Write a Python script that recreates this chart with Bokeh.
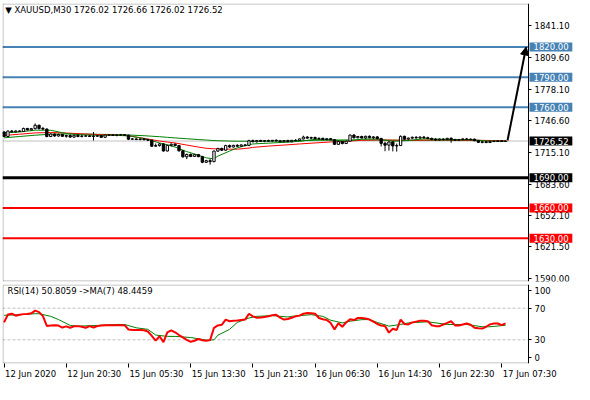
from bokeh.plotting import figure
from bokeh.layouts import column
from bokeh.models import (Range1d, FixedTicker, LinearAxis, Label, Arrow, BoxAnnotation,
                          NormalHead, NumeralTickFormatter, ColumnDataSource)
from bokeh.embed import file_html
from bokeh.resources import INLINE

# ---------------- data ----------------
open_ = [1735.5, 1731.0, 1736.4, 1735.6, 1736.5, 1736.0, 1739.0, 1737.6, 1738.8, 1742.2,
         1739.0, 1738.4, 1731.0, 1733.4, 1731.5, 1733.0, 1731.2, 1732.0, 1730.4, 1732.2,
         1731.0, 1731.4, 1731.6, 1731.0, 1731.3, 1731.8, 1730.2, 1732.4, 1732.6, 1732.1,
         1732.5, 1732.8, 1732.3, 1728.3, 1728.6, 1728.0, 1728.5, 1727.8, 1727.4, 1721.4,
         1722.0, 1723.6, 1716.6, 1722.2, 1723.4, 1722.0, 1716.8, 1710.8, 1713.2, 1711.2,
         1713.0, 1711.0, 1705.4, 1707.0, 1706.0, 1716.5, 1719.0, 1717.4, 1722.0, 1720.6,
         1722.2, 1721.4, 1722.6, 1722.2, 1726.8, 1725.8, 1727.0, 1726.2, 1726.9, 1726.4,
         1727.2, 1726.6, 1725.9, 1726.9, 1725.8, 1727.2, 1727.0, 1728.6, 1730.4, 1729.4,
         1730.0, 1728.8, 1729.2, 1728.0, 1728.8, 1727.8, 1723.2, 1726.0, 1724.0, 1726.4,
         1732.4, 1729.8, 1731.0, 1729.6, 1731.2, 1729.8, 1730.6, 1729.0, 1724.2, 1722.4,
         1725.6, 1721.6, 1722.0, 1731.2, 1728.4, 1729.4, 1730.2, 1729.6, 1730.4, 1729.8,
         1729.0, 1728.2, 1727.6, 1728.4, 1728.0, 1729.2, 1727.8, 1727.4, 1728.0, 1728.6,
         1728.0, 1728.4, 1726.8, 1725.2, 1725.8, 1725.0, 1726.2, 1726.0, 1726.6, 1726.02]
high = [1736.2, 1737.0, 1737.5, 1737.0, 1737.4, 1739.8, 1739.6, 1739.5, 1744.0, 1742.8,
        1740.6, 1739.0, 1734.2, 1734.0, 1733.8, 1733.6, 1732.8, 1733.0, 1732.7, 1733.0,
        1732.8, 1732.0, 1732.5, 1735.5, 1732.3, 1732.4, 1732.8, 1733.2, 1733.4, 1733.0,
        1733.6, 1733.5, 1732.8, 1729.4, 1729.2, 1729.0, 1729.3, 1728.8, 1727.9, 1724.0,
        1724.5, 1724.4, 1722.8, 1724.0, 1724.2, 1722.5, 1717.5, 1714.0, 1714.0, 1713.8,
        1713.6, 1711.8, 1707.8, 1708.6, 1717.0, 1719.8, 1720.0, 1722.8, 1723.0, 1722.8,
        1723.4, 1723.2, 1723.6, 1727.8, 1728.0, 1727.6, 1727.8, 1727.4, 1727.9, 1727.6,
        1728.2, 1727.6, 1727.5, 1727.8, 1727.6, 1728.4, 1729.0, 1731.8, 1731.4, 1730.8,
        1730.9, 1730.0, 1729.8, 1729.4, 1729.6, 1728.2, 1726.8, 1726.6, 1726.8, 1733.0,
        1733.4, 1731.6, 1731.8, 1731.8, 1732.0, 1731.4, 1731.4, 1729.8, 1725.8, 1726.2,
        1726.4, 1724.0, 1732.0, 1731.8, 1730.0, 1731.0, 1731.4, 1731.2, 1731.6, 1730.8,
        1730.0, 1729.4, 1729.0, 1729.2, 1729.6, 1730.2, 1728.8, 1728.6, 1729.2, 1729.6,
        1729.0, 1728.8, 1727.4, 1726.6, 1726.4, 1726.8, 1727.2, 1727.0, 1727.2, 1726.66]
low = [1730.5, 1730.8, 1735.2, 1735.0, 1735.6, 1735.8, 1737.0, 1737.2, 1738.2, 1738.0,
       1737.5, 1730.2, 1730.4, 1730.8, 1731.0, 1730.5, 1729.8, 1729.9, 1730.0, 1730.3,
       1730.1, 1730.6, 1730.8, 1727.0, 1730.6, 1729.8, 1730.0, 1731.5, 1731.8, 1731.2,
       1731.8, 1731.8, 1727.5, 1727.6, 1727.4, 1727.2, 1727.3, 1726.5, 1720.8, 1720.6,
       1721.0, 1716.0, 1716.2, 1721.0, 1721.5, 1716.0, 1710.0, 1708.5, 1710.5, 1710.6,
       1710.4, 1704.5, 1704.8, 1703.0, 1705.5, 1715.8, 1716.6, 1716.8, 1719.8, 1720.0,
       1720.6, 1720.8, 1721.4, 1721.8, 1725.2, 1725.0, 1725.6, 1725.4, 1725.9, 1725.6,
       1726.0, 1725.4, 1725.2, 1725.4, 1725.2, 1726.2, 1726.4, 1728.0, 1728.8, 1728.4,
       1728.2, 1727.8, 1727.4, 1727.2, 1727.3, 1722.6, 1722.8, 1723.2, 1723.6, 1725.8,
       1729.0, 1729.2, 1729.0, 1728.6, 1729.2, 1728.4, 1728.2, 1721.2, 1716.4, 1717.0,
       1716.2, 1716.0, 1721.6, 1727.6, 1727.2, 1728.6, 1728.8, 1728.6, 1729.0, 1728.4,
       1727.6, 1726.8, 1727.0, 1727.2, 1727.4, 1724.8, 1726.8, 1726.4, 1727.2, 1727.6,
       1727.2, 1726.4, 1724.6, 1724.2, 1724.4, 1724.6, 1725.4, 1725.6, 1725.8, 1726.02]
close = [1731.0, 1736.4, 1735.6, 1736.5, 1736.0, 1739.0, 1737.6, 1738.8, 1742.2, 1739.0,
         1738.4, 1731.0, 1733.4, 1731.5, 1733.0, 1731.2, 1732.0, 1730.4, 1732.2, 1731.0,
         1731.4, 1731.6, 1731.0, 1731.3, 1731.8, 1730.2, 1732.4, 1732.6, 1732.1, 1732.5,
         1732.8, 1732.3, 1728.3, 1728.6, 1728.0, 1728.5, 1727.8, 1727.4, 1721.4, 1722.0,
         1723.6, 1716.6, 1722.2, 1723.4, 1722.0, 1716.8, 1710.8, 1713.2, 1711.2, 1713.0,
         1711.0, 1705.4, 1707.0, 1706.0, 1716.5, 1719.0, 1717.4, 1722.0, 1720.6, 1722.2,
         1721.4, 1722.6, 1722.2, 1726.8, 1725.8, 1727.0, 1726.2, 1726.9, 1726.4, 1727.2,
         1726.6, 1725.9, 1726.9, 1725.8, 1727.2, 1727.0, 1728.6, 1730.4, 1729.4, 1730.0,
         1728.8, 1729.2, 1728.0, 1728.8, 1727.8, 1723.2, 1726.0, 1724.0, 1726.4, 1732.4,
         1729.8, 1731.0, 1729.6, 1731.2, 1729.8, 1730.6, 1729.0, 1724.2, 1722.4, 1725.6,
         1721.6, 1722.0, 1731.2, 1728.4, 1729.4, 1730.2, 1729.6, 1730.4, 1729.8, 1729.0,
         1728.2, 1727.6, 1728.4, 1728.0, 1729.2, 1727.8, 1727.4, 1728.0, 1728.6, 1728.0,
         1728.4, 1726.8, 1725.2, 1725.8, 1725.0, 1726.2, 1726.0, 1726.6, 1726.0, 1726.52]

ma_x = [0, 4, 8, 12, 16, 20, 24, 28, 32, 36, 38, 40, 42, 44, 47, 50, 52, 54, 55, 58,
        60, 63, 64, 68, 72, 76, 80, 84, 88, 92, 96, 100, 104, 108, 112, 116, 120, 124, 129]
ma_slow = [1729.7, 1731.0, 1732.3, 1733.3, 1733.6, 1733.5, 1733.2, 1733.0, 1732.5, 1731.8,
           1731.3, 1730.8, 1730.2, 1729.6, 1728.8, 1728.0, 1727.5, 1727.0, 1726.8, 1726.5,
           1726.3, 1726.3, 1726.3, 1726.4, 1726.6, 1726.8, 1727.2, 1727.5, 1727.6, 1727.6,
           1727.5, 1727.3, 1727.2, 1727.2, 1727.2, 1727.1, 1727.0, 1726.9, 1726.8]
ma_mid = [1732.0, 1733.3, 1734.6, 1735.0, 1734.5, 1733.6, 1733.0, 1732.6, 1731.8, 1729.2,
          1727.8, 1726.5, 1725.5, 1724.6, 1722.5, 1720.5, 1719.3, 1718.8, 1718.6, 1718.4,
          1718.4, 1719.5, 1720.2, 1721.5, 1722.5, 1723.6, 1724.6, 1725.6, 1726.2, 1727.2,
          1727.6, 1727.4, 1727.2, 1727.5, 1727.7, 1727.6, 1727.4, 1727.1, 1726.8]
ma_fast = [1734.5, 1735.5, 1737.3, 1737.2, 1734.0, 1732.6, 1732.2, 1732.3, 1731.6, 1729.0,
           1726.8, 1724.6, 1722.8, 1720.5, 1716.0, 1712.4, 1709.8, 1708.8, 1711.5, 1716.5,
           1719.8, 1722.8, 1723.6, 1724.4, 1725.2, 1726.2, 1728.2, 1727.6, 1726.4, 1728.4,
           1728.6, 1726.2, 1727.0, 1728.8, 1728.4, 1728.0, 1728.0, 1726.6, 1726.3]

rsi = [52.0, 62.0, 63.0, 60.5, 61.8, 62.5, 62.6, 63.5, 67.0, 65.0,
       60.0, 47.5, 48.2, 48.5, 48.0, 45.5, 47.0, 45.2, 47.0, 47.3,
       46.5, 45.2, 47.3, 45.5, 47.3, 48.0, 48.5, 48.5, 48.5, 48.5,
       48.5, 48.5, 43.0, 42.4, 42.4, 42.4, 42.0, 40.5, 35.0, 29.0,
       34.5, 27.0, 39.5, 42.0, 39.5, 36.0, 33.0, 30.0, 27.5, 28.8,
       31.0, 29.5, 28.8, 29.6, 45.2, 48.2, 49.0, 55.6, 53.5, 54.0,
       54.4, 55.0, 55.6, 63.0, 59.7, 58.0, 58.3, 59.0, 59.7, 61.0,
       61.8, 58.0, 55.6, 56.4, 58.0, 59.7, 60.6, 63.0, 63.8, 63.5,
       63.0, 57.6, 56.0, 55.0, 51.4, 43.2, 51.0, 46.5, 52.0, 56.0,
       55.0, 57.6, 57.6, 57.0, 55.6, 53.0, 50.0, 48.0, 47.3, 39.1,
       44.0, 42.4, 55.6, 50.0, 49.4, 52.0, 53.0, 54.0, 54.2, 53.5,
       48.5, 47.3, 47.3, 49.4, 51.4, 53.5, 48.2, 48.2, 49.4, 50.6,
       49.0, 45.2, 44.5, 44.2, 46.5, 49.5, 50.6, 50.6, 48.5, 50.8]
rsi_ma_x = [0, 4, 8, 9, 12, 14, 17, 19, 24, 29, 31, 34, 37, 39, 42, 44, 48, 52, 54, 55,
            58, 60, 63, 65, 69, 73, 74, 79, 82, 84, 87, 89, 92, 94, 96, 98, 99, 102, 104, 109,
            114, 119, 123, 125, 129]
rsi_ma = [61.0, 61.8, 63.0, 63.0, 59.7, 55.6, 48.2, 47.3, 48.2, 49.4,
          49.4, 45.2, 43.2, 36.0, 34.3, 34.3, 32.9, 29.6, 30.0, 35.8,
          43.2, 52.0, 57.6, 59.7, 60.6, 58.9, 59.7, 61.8, 59.7, 54.8,
          51.4, 53.5, 55.5, 55.6, 52.0, 49.0, 47.3, 49.4, 51.4, 52.8,
          49.4, 49.4, 46.5, 46.5, 48.4]

price_ticks = [1590.0, 1621.5, 1652.1, 1683.6, 1715.1, 1746.6, 1778.1, 1809.6, 1841.1]
levels = [1820.0, 1790.0, 1760.0, 1690.0, 1660.0, 1630.0]
level_colors = ["#4682B4", "#4682B4", "#4682B4", "#000000", "#FF0000", "#FF0000"]
level_widths = [2, 2, 2, 3, 2, 2]
arrow_from = [129.5, 1727.0]
arrow_to = [134.3, 1820.0]
time_ticks = [0, 16, 32, 48, 64, 80, 96, 112, 128]
time_labels = ["12 Jun 2020", "12 Jun 20:30", "15 Jun 05:30", "15 Jun 13:30", "15 Jun 21:30",
               "16 Jun 06:30", "16 Jun 14:30", "16 Jun 22:30", "17 Jun 07:30"]
rsi_levels = [30, 70]
header = "\u25BC XAUUSD,M30  1726.02 1726.66 1726.02 1726.52"
rsi_header = "RSI(14) 50.8059  ->MA(7) 48.4459"

# ---------------- layout constants ----------------
W = 574
FONT = "DejaVu Sans"
FS = "8.5px"
X0, X1 = -0.4, 134.9            # bar range of the chart area (left edge .. price scale)
Y0, Y1 = 1586.9, 1863.2
BORDER_L, BORDER_R = 2, 2
SCALE_W = 44                     # width of the price scale strip, px
chart_w = W - BORDER_L - BORDER_R - SCALE_W
px_per_bar = chart_w / (X1 - X0)
X_END = X1 + SCALE_W / px_per_bar
MAIN_H, MAIN_TOP, MAIN_BOT = 283, 3, 2
RSI_H, RSI_TOP, RSI_BOT = 101, 1, 21

xr = Range1d(X0, X_END)

def frame_box(y0, y1, frame_h):
    ix = 0.5 / px_per_bar
    iy = 0.5 * (y1 - y0) / frame_h
    return BoxAnnotation(left=X0 + ix, right=X1, bottom=y0 + iy, top=y1 - iy,
                         fill_color=None, line_color="black", line_width=1,
                         level="overlay")

def style_scale(ax):
    ax.fixed_location = X1
    ax.major_tick_out = 3
    ax.major_tick_in = 0
    ax.minor_tick_out = 0
    ax.minor_tick_in = 0
    ax.axis_line_color = "black"
    ax.major_label_standoff = 3
    ax.major_label_text_font = FONT
    ax.major_label_text_font_size = FS
    ax.major_label_text_color = "black"

# ---------------- main price panel ----------------
p = figure(width=W, height=MAIN_H, x_range=xr, y_range=Range1d(Y0, Y1),
           output_backend="svg", toolbar_location=None, x_axis_type=None,
           y_axis_location="right", min_border_left=BORDER_L, min_border_right=BORDER_R,
           min_border_top=MAIN_TOP, min_border_bottom=MAIN_BOT,
           background_fill_color="white", border_fill_color="white")
p.outline_line_color = None
p.grid.grid_line_color = None

ya = p.yaxis[0]
ya.ticker = FixedTicker(ticks=price_ticks)
ya.formatter = NumeralTickFormatter(format="0.00")
style_scale(ya)

bars = list(range(len(close)))
src = ColumnDataSource(dict(
    x=bars, high=high, low=low,
    top=[max(o, c) for o, c in zip(open_, close)],
    bottom=[min(o, c) for o, c in zip(open_, close)],
    fill=["white" if c >= o else "black" for o, c in zip(open_, close)],
))

# current price line (behind the candles)
p.segment(x0=[X0], x1=[X1], y0=[close[-1]], y1=[close[-1]], line_color="#C0C0C0", line_width=1)

p.line(ma_x, ma_slow, line_color="#008000", line_width=1)
p.line(ma_x, ma_mid, line_color="#FF0000", line_width=1)
p.line(ma_x, ma_fast, line_color="#008000", line_width=1)

p.segment(x0="x", y0="low", x1="x", y1="high", source=src, line_color="black", line_width=1)
p.vbar(x="x", width=0.6, top="top", bottom="bottom", source=src,
       fill_color="fill", line_color="black", line_width=1)

p.segment(x0=[X0] * len(levels), x1=[X1] * len(levels), y0=levels, y1=levels,
          line_color=level_colors, line_width=level_widths)

p.add_layout(Arrow(end=NormalHead(size=8, fill_color="black", line_color="black"),
                   x_start=arrow_from[0], y_start=arrow_from[1],
                   x_end=arrow_to[0], y_end=arrow_to[1],
                   line_color="black", line_width=2))

p.add_layout(frame_box(Y0, Y1, MAIN_H - MAIN_TOP - MAIN_BOT))

# value boxes on the price scale
for lvl, col in zip(levels + [close[-1]], level_colors + ["#000000"]):
    p.add_layout(Label(x=X1, y=lvl, text=f"{lvl:.2f}", x_offset=1,
                       text_align="left", text_baseline="middle",
                       text_color="white", text_font=FONT, text_font_size=FS,
                       background_fill_color=col, padding=(4, 1), level="overlay"))

p.add_layout(Label(x=0.3, y=1856.5, text=header, text_align="left",
                   text_baseline="middle", text_color="black",
                   text_font=FONT, text_font_size=FS))

# ---------------- RSI panel ----------------
r = figure(width=W, height=RSI_H, x_range=xr, y_range=Range1d(0, 100),
           output_backend="svg", toolbar_location=None, x_axis_type=None,
           y_axis_location="right", min_border_left=BORDER_L, min_border_right=BORDER_R,
           min_border_top=RSI_TOP, min_border_bottom=RSI_BOT,
           background_fill_color="white", border_fill_color="white")
r.outline_line_color = None
r.grid.grid_line_color = None

ry = r.yaxis[0]
ry.ticker = FixedTicker(ticks=[8, 30, 70, 92])
ry.major_label_overrides = {8: "0", 30: "30", 70: "70", 92: "100"}
style_scale(ry)

r.segment(x0=[X0] * len(rsi_levels), x1=[X1] * len(rsi_levels), y0=rsi_levels, y1=rsi_levels,
          line_color="#C0C0C0", line_width=1, line_dash="3 2")

r.line(rsi_ma_x, rsi_ma, line_color="#008000", line_width=1)
r.line(bars, rsi, line_color="#FF0000", line_width=2)

r.add_layout(frame_box(0, 100, RSI_H - RSI_TOP - RSI_BOT))

r.add_layout(Label(x=0.9, y=92, text=rsi_header, text_align="left",
                   text_baseline="middle", text_color="black",
                   text_font=FONT, text_font_size=FS))

# time axis: tick marks at the bars, labels left-aligned to the marks
tick_axis = LinearAxis(ticker=FixedTicker(ticks=time_ticks))
tick_axis.major_label_text_font_size = "0px"
tick_axis.major_label_standoff = 0
tick_axis.major_tick_out = 4
tick_axis.major_tick_in = 0
tick_axis.minor_tick_out = 0
tick_axis.minor_tick_in = 0
tick_axis.axis_line_color = None
tick_axis.major_label_overrides = {t: "" for t in time_ticks}

CHAR_W = {" ": 0.318, ":": 0.337, "J": 0.295, "u": 0.634, "n": 0.634}
def text_px(s, size=8.5):
    return sum(CHAR_W.get(ch, 0.636) for ch in s) * size

centers = [round(t + (text_px(s) / 2 + 1) / px_per_bar, 3)
           for t, s in zip(time_ticks, time_labels)]

label_axis = LinearAxis(ticker=FixedTicker(ticks=centers))
label_axis.major_label_overrides = {c: s for c, s in zip(centers, time_labels)}
label_axis.major_tick_out = 0
label_axis.major_tick_in = 0
label_axis.minor_tick_out = 0
label_axis.minor_tick_in = 0
label_axis.axis_line_color = None
label_axis.major_label_standoff = 1
label_axis.major_label_text_font = FONT
label_axis.major_label_text_font_size = FS
label_axis.major_label_text_color = "black"

r.add_layout(tick_axis, "below")
r.add_layout(label_axis, "below")

layout = column(p, r, spacing=0)
open("out.html", "w").write(file_html(layout, INLINE))
